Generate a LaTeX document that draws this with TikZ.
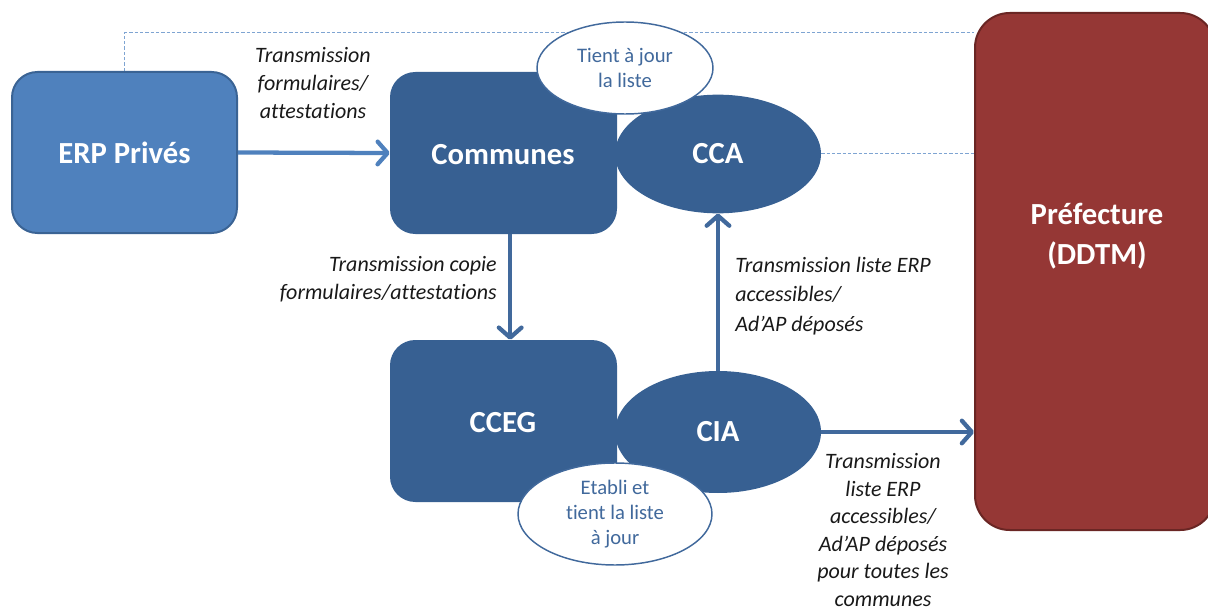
\documentclass[tikz,border=0pt]{standalone}
\usepackage{fontspec}
\setmainfont{Carlito}[Ligatures=NoCommon]
\usetikzlibrary{shapes.geometric,arrows.meta,backgrounds}
\definecolor{erpfill}{HTML}{4F81BD}
\definecolor{erpedge}{HTML}{3A6394}
\definecolor{orgfill}{HTML}{376092}
\definecolor{preffill}{HTML}{953735}
\definecolor{prefedge}{HTML}{6A2624}
\definecolor{flowlight}{HTML}{4F81BD}
\definecolor{flowdark}{HTML}{41699C}
\definecolor{noteedge}{HTML}{41699C}
\definecolor{notetext}{HTML}{41699C}
\definecolor{linkdash}{HTML}{7EA4D2}
\tikzset{
  orgbox/.style={rectangle, rounded corners=19pt, inner sep=0pt, text=white,
    font=\fontsize{23}{28}\selectfont\bfseries},
  orgoval/.style={ellipse, inner sep=0pt, fill=orgfill, text=white,
    font=\fontsize{23}{28}\selectfont\bfseries},
  note/.style={ellipse, inner sep=0pt, draw=noteedge, line width=1.1pt, fill=white,
    text=notetext, align=center, font=\fontsize{15.5}{18.75}\selectfont},
  caption/.style={inner sep=0pt, text=black!90,
    font=\fontsize{16.5}{21}\selectfont\itshape},
  flow/.style={line width=3.2pt,
    -{Straight Barb[length=7.5pt,width=17pt,line cap=round,line join=round]}},
  link/.style={draw=linkdash, line width=0.75pt, dash pattern=on 2.5pt off 1.5pt}
}
\begin{document}
\begin{tikzpicture}[x=0.75pt, y=-0.75pt]
\useasboundingbox (0,0) rectangle (1208,610);

% organisations
\node[orgbox, fill=erpfill, draw=erpedge, line width=1.5pt,
      minimum width=168.75pt, minimum height=120.75pt] (erp) at (124.5,152.5) {ERP Privés};
\node[orgbox, fill=orgfill, minimum width=170.25pt, minimum height=121.5pt] (communes) at (503.5,153) {};
\node[orgoval, minimum width=154.5pt, minimum height=89pt] (cca) at (718,154) {CCA};
\node[font=\fontsize{23}{28}\selectfont\bfseries, text=white] (communestext) at (503,155) {Communes};
\node[note, minimum width=132pt, minimum height=69pt] (majliste) at (625,68) {Tient à jour\\la liste};

\node[orgbox, fill=orgfill, minimum width=170.25pt, minimum height=121.5pt] (cceg) at (503.5,421) {};
\node[orgoval, minimum width=154.5pt, minimum height=91.5pt] (cia) at (718,432) {CIA};
\node[font=\fontsize{23}{28}\selectfont\bfseries, text=white] (ccegtext) at (503,423) {CCEG};
\node[note, minimum width=145.5pt, minimum height=76.5pt] (etabli) at (615,514) {Etabli et\\tient la liste\\à jour};

\node[rectangle, rounded corners=26pt, fill=preffill, draw=prefedge, line width=1.5pt,
      minimum width=180pt, minimum height=387.75pt] (pref) at (1095,271.5) {};
\node[align=center, text=white, font=\fontsize{23}{30}\selectfont\bfseries] (preftext) at (1097,236) {Préfecture\\(DDTM)};

% dotted links to the prefecture
\begin{scope}[on background layer]
  \coordinate (toprow) at (0,33);
  \draw[link] (erp.north) |- (toprow -| pref.west);
  \draw[link] (cca.east) -- (cca.east -| pref.west);
\end{scope}

% transmissions
\draw[flow, draw=flowlight] (erp.east) -- (communes.west);
\draw[flow, draw=flowdark] ([xshift=5pt]communes.south) -- ([xshift=5pt]cceg.north);
\draw[flow, draw=flowdark] (cia.north) -- (cca.south);
\draw[flow, draw=flowdark] (cia.east) -- (cia.east -| pref.west);

% captions
\node[caption, align=center] (c1) at (313,83) {Transmission\\formulaires/\\attestations};
\node[caption, align=right, anchor=east] (c2) at (497,279) {Transmission copie\\formulaires/attestations};
\node[caption, align=left, anchor=west, font=\fontsize{16.5}{22}\selectfont\itshape] (c3) at (735,296) {Transmission liste ERP\\accessibles/\\Ad’AP déposés};
\node[caption, align=center, font=\fontsize{16.5}{20.6}\selectfont\itshape] (c4) at (883,530) {Transmission\\liste ERP\\accessibles/\\Ad’AP déposés\\pour toutes les\\communes};
\end{tikzpicture}
\end{document}
